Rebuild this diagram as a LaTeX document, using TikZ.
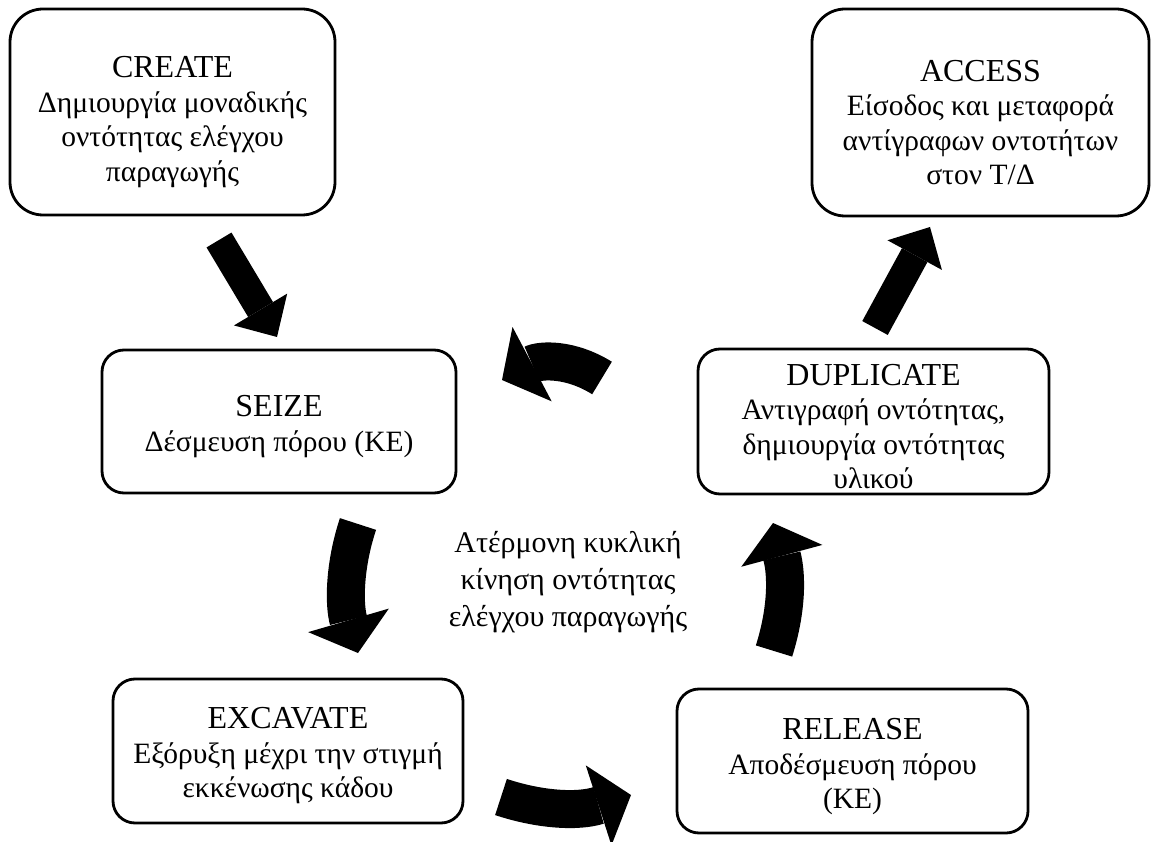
\documentclass[tikz,border=0pt]{standalone}
\usepackage{fontspec}
\setmainfont{Liberation Serif}
\usetikzlibrary{arrows.meta}
\newcommand{\stagetitle}{\fontsize{32}{34.5}\selectfont}
\newcommand{\stagebody}{\fontsize{29.5}{34.5}\selectfont}
\begin{document}
\begin{tikzpicture}[x=1pt,y=-1pt,
  stage/.style={draw, line width=2.8pt, rounded corners=22pt, inner sep=0pt},
  bigstage/.style={stage, rounded corners=33pt},
  stagetext/.style={align=center, inner sep=0pt, font=\stagebody},
  straightarrow/.style={line width=29pt,
    -{Triangle[length=32pt,width=62pt,line width=0pt]}},
  bentarrow/.style={line width=38pt,
    -{Triangle[length=34pt,width=84pt,line width=0pt]}},
  note/.style={align=center, font=\fontsize{30}{37}\selectfont}]
\useasboundingbox (0,0) rectangle (1159,842);

% process stages (frames)
\node[bigstage, minimum width=325pt, minimum height=206pt] (create) at (172.5,112) {};
\node[bigstage, minimum width=337pt, minimum height=207pt] (access) at (980.5,112.5) {};
\node[stage, minimum width=354pt, minimum height=143pt] (seize) at (279,421.5) {};
\node[stage, minimum width=351pt, minimum height=145pt] (duplicate) at (873.5,421.5) {};
\node[stage, minimum width=350pt, minimum height=144pt] (excavate) at (288,751) {};
\node[stage, minimum width=351pt, minimum height=144pt] (release) at (852.5,761) {};

% stage texts, set a little below the frame centres
\node[stagetext] (create-t) at ([yshift=-10pt]create.center)
  {{\stagetitle CREATE}\\Δημιουργία μοναδικής\\οντότητας ελέγχου\\παραγωγής};
\node[stagetext] (access-t) at ([yshift=-10pt]access.center)
  {{\stagetitle ACCESS}\\Είσοδος και μεταφορά\\αντίγραφων οντοτήτων\\στον Τ/Δ};
\node[stagetext] (seize-t) at ([yshift=-5pt]seize.center)
  {{\stagetitle SEIZE}\\Δέσμευση πόρου (ΚΕ)};
\node[stagetext] (duplicate-t) at ([yshift=-5pt]duplicate.center)
  {{\stagetitle DUPLICATE}\\Αντιγραφή οντότητας,\\δημιουργία οντότητας\\υλικού};
\node[stagetext] (excavate-t) at ([yshift=-5pt]excavate.center)
  {{\stagetitle EXCAVATE}\\Εξόρυξη μέχρι την στιγμή\\εκκένωσης κάδου};
\node[stagetext] (release-t) at ([yshift=-6pt]release.center)
  {{\stagetitle RELEASE}\\Αποδέσμευση πόρου\\(ΚΕ)};

% label in the middle of the loop
\node[note] (loop) at (568,582)
  {Ατέρμονη κυκλική\\κίνηση οντότητας\\ελέγχου παραγωγής};

% arrow end points
\coordinate (c1) at (219,240);  \coordinate (c2) at (277,337);
\coordinate (a1) at (875,328);  \coordinate (a2) at (930,227);
\coordinate (d1) at (602,378);  \coordinate (d2) at (502,380);
\coordinate (s1) at (358,524);  \coordinate (s2) at (358,653);
\coordinate (e1) at (501,797);  \coordinate (e2) at (631,795);
\coordinate (r1) at (774,651);  \coordinate (r2) at (773,523);

% straight arrows
\draw[straightarrow] (c1) -- (c2);
\draw[straightarrow] (a1) -- (a2);

% bent arrows of the cycle
\draw[bentarrow] (d1) .. controls (570,358) and (540,360) .. (d2);
\draw[bentarrow] (s1) .. controls (344,566) and (344,605) .. (s2);
\draw[bentarrow] (e1) .. controls (540,810) and (578,812) .. (e2);
\draw[bentarrow] (r1) .. controls (787,610) and (787,575) .. (r2);
\end{tikzpicture}
\end{document}
